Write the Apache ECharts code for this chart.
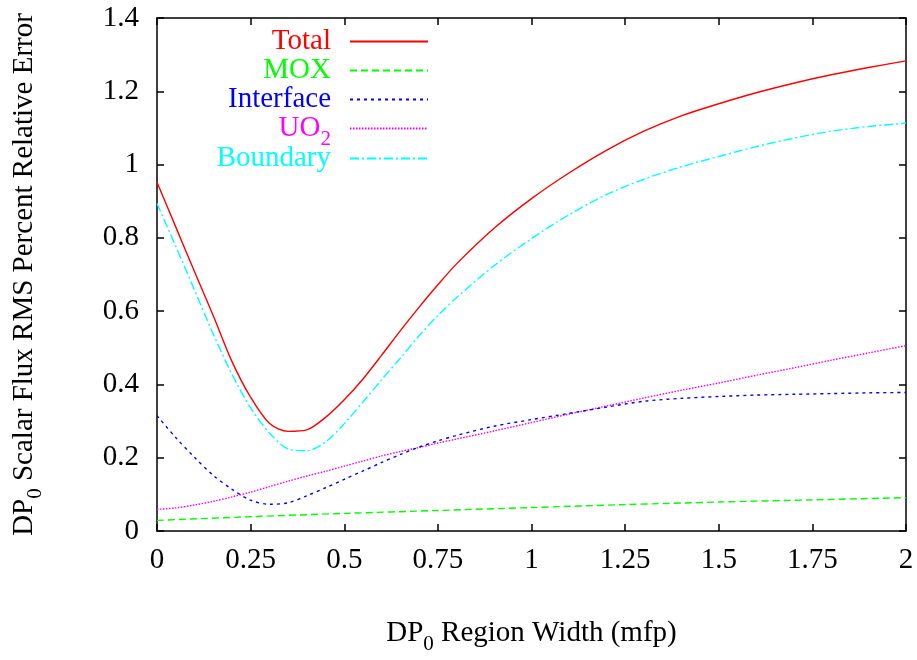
<!DOCTYPE html>
<html>
<head>
<meta charset="utf-8">
<script src="https://cdn.jsdelivr.net/npm/echarts@6/dist/echarts.min.js"></script>
<style>html,body{margin:0;padding:0;background:#fff;}#c{width:917px;height:660px;}</style>
</head>
<body>
<div id="c"></div>
<script>
const FONT = "'Liberation Serif','Times New Roman',serif";
const xTicks = [0, 0.25, 0.5, 0.75, 1, 1.25, 1.5, 1.75, 2];
const yTicks = [0, 0.2, 0.4, 0.6, 0.8, 1, 1.2, 1.4];
const seriesNames = ['Total', 'MOX', 'Interface', 'UO2', 'Boundary'];
const seriesColors = ['#ff0000', '#00ff00', '#0000ff', '#ff00ff', '#00ffff'];

// x positions (mfp) at which values were read
const xGrid = [0,0.05,0.1,0.15,0.2,0.25,0.3,0.35,0.4,0.45,0.5,0.55,0.6,0.65,0.7,0.75,0.8,0.9,1.0,1.1,1.2,1.3,1.4,1.5,1.6,1.7,1.8,1.9,2.0];
const totalY    = [0.952,0.830,0.708,0.588,0.463,0.365,0.294,0.272,0.276,0.310,0.358,0.415,0.480,0.547,0.611,0.672,0.729,0.826,0.907,0.977,1.039,1.091,1.133,1.166,1.196,1.222,1.245,1.265,1.283];
const interfaceY= [0.315,0.255,0.201,0.152,0.114,0.084,0.073,0.077,0.096,0.118,0.141,0.164,0.187,0.209,0.229,0.246,0.261,0.286,0.304,0.321,0.338,0.354,0.362,0.367,0.371,0.373,0.375,0.377,0.378];
const uo2Y      = [0.059,0.063,0.071,0.081,0.093,0.106,0.121,0.136,0.150,0.163,0.177,0.191,0.205,0.217,0.228,0.240,0.251,0.273,0.296,0.319,0.341,0.363,0.384,0.404,0.425,0.445,0.466,0.486,0.506];
const boundaryY = [0.894,0.777,0.658,0.538,0.428,0.336,0.268,0.224,0.219,0.243,0.293,0.352,0.413,0.472,0.533,0.588,0.637,0.724,0.798,0.863,0.918,0.960,0.994,1.022,1.049,1.072,1.091,1.104,1.113];
const moxX = [0,0.25,0.5,0.75,1.0,1.25,1.5,1.75,2.0];
const moxY = [0.029,0.039,0.048,0.056,0.064,0.072,0.079,0.085,0.091];

const pair = (xs, ys) => xs.map((x, i) => [x, ys[i]]);
const allData = [pair(xGrid, totalY), pair(moxX, moxY), pair(xGrid, interfaceY), pair(xGrid, uo2Y), pair(xGrid, boundaryY)];
const dashTypes = ['solid', [7,4], [3,4], [1.5,1.5], [9,3,2,3]];

const FS = 29;
const subStyle = {fontSize: 21, fontFamily: FONT, padding: [15,0,0,0], verticalAlign: 'top', lineHeight: 21};

const chart = echarts.init(document.getElementById('c'), null, {renderer: 'canvas'});

const axisCommon = {
  type: 'value',
  axisLine: {show: true, onZero: false, lineStyle: {color: '#000', width: 1.5}},
  axisTick: {show: true, inside: true, length: 7, lineStyle: {color: '#000', width: 1.5}},
  splitLine: {show: false}
};

const legendRows = [42, 71, 100, 129, 159];
const legends = seriesNames.map((n, i) => ({
  data: [n],
  orient: 'vertical',
  align: 'right',
  right: 488,
  top: legendRows[i] - 15,
  itemWidth: 78,
  itemHeight: 14,
  padding: 0,
  selectedMode: false,
  itemStyle: {opacity: 0},
  formatter: (name) => name === 'UO2' ? 'UO{sub|2}' : name,
  textStyle: {color: seriesColors[i], fontSize: FS, fontFamily: FONT, padding: [0, 14, 0, 0], rich: {sub: Object.assign({}, subStyle, {color: seriesColors[i]})}}
}));

chart.setOption({
  animation: false,
  backgroundColor: '#fff',
  grid: {left: 157, right: 11, top: 18, bottom: 122, containLabel: false},
  legend: legends,
  xAxis: [
    Object.assign({}, axisCommon, {
      min: 0, max: 2, interval: 0.25, position: 'bottom',
      axisLabel: {color: '#000', fontSize: FS, fontFamily: FONT, margin: 15},
      name: 'DP{sub|0} Region Width (mfp)', nameLocation: 'middle', nameGap: 88,
      nameTextStyle: {color: '#000', fontSize: FS, fontFamily: FONT, rich: {sub: Object.assign({}, subStyle, {color: '#000'})}}
    }),
    Object.assign({}, axisCommon, {min: 0, max: 2, interval: 0.25, position: 'top', axisLabel: {show: false}})
  ],
  yAxis: [
    Object.assign({}, axisCommon, {
      min: 0, max: 1.4, interval: 0.2, position: 'left',
      axisLabel: {color: '#000', fontSize: FS, fontFamily: FONT, margin: 18},
      name: 'DP{sub|0} Scalar Flux RMS Percent Relative Error', nameLocation: 'middle', nameGap: 118, nameRotate: 90,
      nameTextStyle: {color: '#000', fontSize: FS, fontFamily: FONT, rich: {sub: Object.assign({}, subStyle, {color: '#000'})}}
    }),
    Object.assign({}, axisCommon, {min: 0, max: 1.4, interval: 0.2, position: 'right', axisLabel: {show: false}})
  ],
  series: seriesNames.map((n, i) => ({
    name: n,
    type: 'line',
    data: allData[i],
    xAxisIndex: 0, yAxisIndex: 0,
    smooth: 0.3,
    symbol: 'none',
    color: seriesColors[i],
    lineStyle: {color: seriesColors[i], width: 1.4, type: dashTypes[i]},
    z: 5 - i
  }))
});
</script>
</body>
</html>
